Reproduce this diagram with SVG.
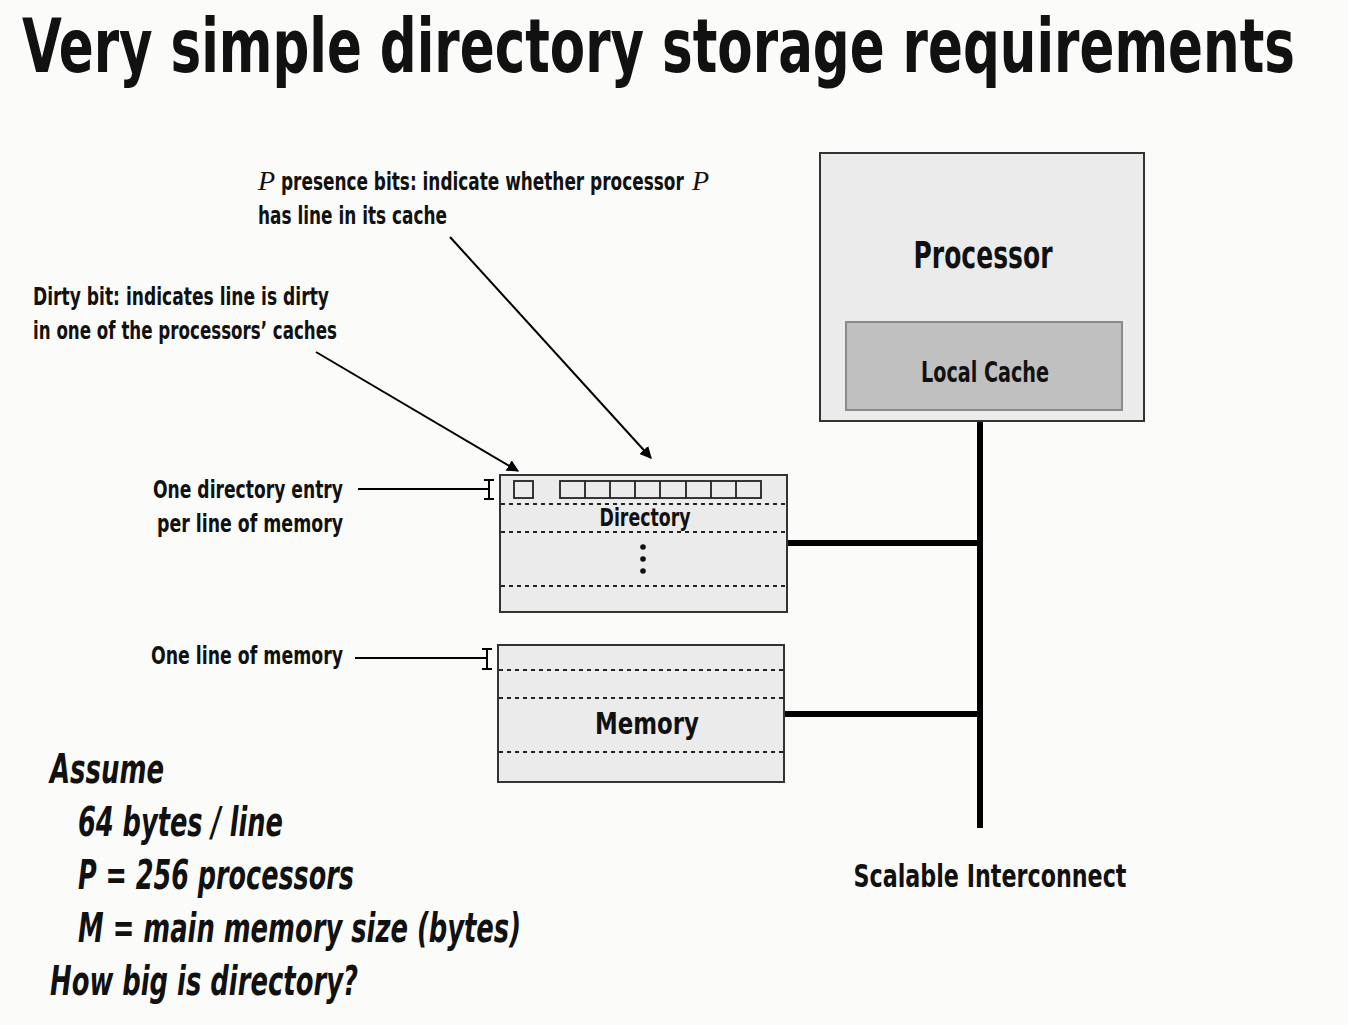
<svg xmlns="http://www.w3.org/2000/svg" width="1348" height="1025" viewBox="0 0 1348 1025">
<style>
text{font-family:"Liberation Sans Narrow","DejaVu Sans Condensed","Liberation Sans",Arial,sans-serif;font-weight:bold;fill:#111;}
.it{font-style:italic;}
.serif{font-family:"Liberation Serif","Times New Roman",serif;font-weight:normal;font-style:italic;}
.box{fill:#ebebeb;stroke:#333;stroke-width:2;}
.dash{stroke:#222;stroke-width:2;stroke-dasharray:4 4;fill:none;}
.bus{stroke:#000;stroke-width:6;fill:none;}
.thin{stroke:#000;stroke-width:2;fill:none;}
.cell{fill:none;stroke:#222;stroke-width:1.8;}
</style>
<defs>
<marker id="ahb" viewBox="0 0 10 10" refX="9" refY="5" markerWidth="12" markerHeight="12" markerUnits="userSpaceOnUse" orient="auto">
<path d="M0,0 L10,5 L0,10 z" fill="#000"/>
</marker>
</defs>
<rect width="1348" height="1025" fill="#fbfbf9"/>
<text transform="translate(22,72) scale(0.78,1)" x="0" y="0" font-size="74" textLength="1632" lengthAdjust="spacingAndGlyphs">Very simple directory storage requirements</text>

<g id="connectors">
<line class="bus" x1="980" y1="421" x2="980" y2="828"/>
<line class="bus" x1="787" y1="543" x2="980" y2="543"/>
<line class="bus" x1="784" y1="714" x2="980" y2="714"/>
<line class="thin" x1="358" y1="489" x2="489" y2="489"/>
<path class="thin" d="M484,480 H494 M489,480 V499 M484,499 H494"/>
<line class="thin" x1="355" y1="658" x2="487" y2="658"/>
<path class="thin" d="M482,649 H492 M487,649 V669 M482,669 H492"/>
<line class="thin" x1="316" y1="352" x2="518" y2="471" marker-end="url(#ahb)"/>
<line class="thin" x1="450" y1="237" x2="651" y2="458" marker-end="url(#ahb)"/>
</g>

<g id="processor">
<rect class="box" x="820" y="153" width="324" height="268"/>
<text x="983" y="268" font-size="38" text-anchor="middle" textLength="139" lengthAdjust="spacingAndGlyphs">Processor</text>
</g>
<g id="local-cache">
<rect x="846" y="322" width="276" height="88" fill="#c0c0c0" stroke="#8a8a8a" stroke-width="2"/>
<text x="985" y="382" font-size="28" text-anchor="middle" textLength="128" lengthAdjust="spacingAndGlyphs">Local Cache</text>
</g>

<g id="directory">
<rect class="box" x="500" y="475" width="287" height="137"/>
<line class="dash" x1="501" y1="504" x2="786" y2="504"/>
<line class="dash" x1="501" y1="532" x2="786" y2="532"/>
<line class="dash" x1="501" y1="586" x2="786" y2="586"/>
<rect class="cell" x="514" y="481" width="19" height="17"/>
<rect class="cell" x="560" y="481" width="201" height="17"/>
<path class="cell" d="M585,481 V498 M610,481 V498 M635,481 V498 M660,481 V498 M686,481 V498 M711,481 V498 M736,481 V498"/>
<text x="645" y="526" font-size="25" text-anchor="middle" textLength="91" lengthAdjust="spacingAndGlyphs">Directory</text>
<circle cx="643" cy="547" r="2.8" fill="#111"/>
<circle cx="643" cy="559" r="2.8" fill="#111"/>
<circle cx="643" cy="571" r="2.8" fill="#111"/>
</g>

<g id="memory">
<rect class="box" x="498" y="645" width="286" height="137"/>
<line class="dash" x1="499" y1="670" x2="786" y2="670"/>
<line class="dash" x1="499" y1="698" x2="786" y2="698"/>
<line class="dash" x1="499" y1="752" x2="783" y2="752"/>
<text x="647" y="734" font-size="31" text-anchor="middle" textLength="104" lengthAdjust="spacingAndGlyphs">Memory</text>
</g>

<g id="labels">
<text class="serif" x="258" y="190" font-size="28">P</text>
<text transform="translate(281,190) scale(0.75,1)" x="0" y="0" font-size="24" textLength="537" lengthAdjust="spacingAndGlyphs">presence bits: indicate whether processor</text>
<text class="serif" x="692" y="190" font-size="28">P</text>
<text x="258" y="224" font-size="24" textLength="189" lengthAdjust="spacingAndGlyphs">has line in its cache</text>
<text x="33" y="305" font-size="24" textLength="296" lengthAdjust="spacingAndGlyphs">Dirty bit: indicates line is dirty</text>
<text x="33" y="339" font-size="24" textLength="304" lengthAdjust="spacingAndGlyphs">in one of the processors’ caches</text>
<text x="343" y="498" font-size="24" text-anchor="end" textLength="190" lengthAdjust="spacingAndGlyphs">One directory entry</text>
<text x="343" y="532" font-size="24" text-anchor="end" textLength="186" lengthAdjust="spacingAndGlyphs">per line of memory</text>
<text x="343" y="664" font-size="24" text-anchor="end" textLength="192" lengthAdjust="spacingAndGlyphs">One line of memory</text>
<text x="990" y="887" font-size="32" text-anchor="middle" textLength="273" lengthAdjust="spacingAndGlyphs">Scalable Interconnect</text>
</g>

<g id="assume">
<text class="it" x="50" y="783" font-size="40" textLength="114" lengthAdjust="spacingAndGlyphs">Assume</text>
<text class="it" x="78" y="836" font-size="40" textLength="205" lengthAdjust="spacingAndGlyphs">64 bytes / line</text>
<text class="it" x="78" y="889" font-size="40" textLength="276" lengthAdjust="spacingAndGlyphs">P = 256 processors</text>
<text class="it" x="78" y="942" font-size="40" textLength="443" lengthAdjust="spacingAndGlyphs">M = main memory size (bytes)</text>
<text class="it" x="50" y="995" font-size="40" textLength="308" lengthAdjust="spacingAndGlyphs">How big is directory?</text>
</g>
</svg>
